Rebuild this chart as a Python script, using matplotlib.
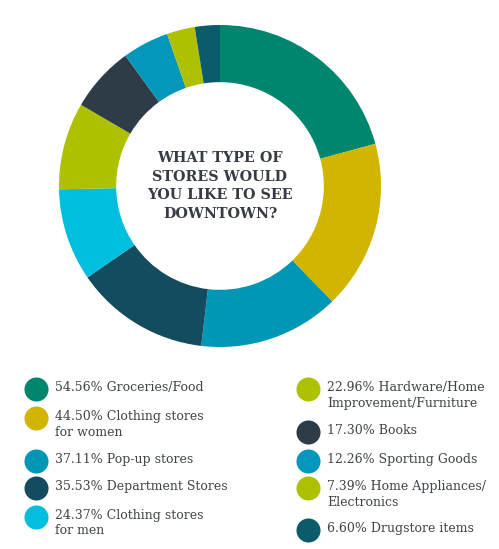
import matplotlib.pyplot as plt

# Survey results: what type of stores would you like to see downtown?
categories = ["Groceries/Food", "Clothing stores\nfor women", "Pop-up stores",
              "Department Stores", "Clothing stores\nfor men",
              "Hardware/Home\nImprovement/Furniture", "Books", "Sporting Goods",
              "Home Appliances/\nElectronics", "Drugstore items"]
percents = [54.56, 44.50, 37.11, 35.53, 24.37, 22.96, 17.30, 12.26, 7.39, 6.60]
colors = ["#00866E", "#D1B500", "#0096B6", "#134B5F", "#00BEDD",
          "#AEC100", "#2E3C48", "#0398BB", "#AEC100", "#0C5B6A"]

W, H = 499, 549
fig = plt.figure(figsize=(W / 100, H / 100), dpi=100)
fig.patch.set_facecolor("white")

# donut
cx, cy, r = 220, 186, 161
ax = fig.add_axes([(cx - r) / W, (H - cy - r) / H, 2 * r / W, 2 * r / H])
ax.pie(percents, colors=colors, startangle=90, counterclock=False, radius=1,
       wedgeprops=dict(width=0.355, linewidth=0))
ax.set_xlim(-1, 1)
ax.set_ylim(-1, 1)
ax.axis("off")
ax.text(0, 0.0, "WHAT TYPE OF\nSTORES WOULD\nYOU LIKE TO SEE\nDOWNTOWN?",
        ha="center", va="center", fontsize=10.3, fontweight="bold",
        family="DejaVu Serif", color="#363C44", linespacing=1.4)

# legend
lax = fig.add_axes([0, 0, 1, 1])
lax.set_xlim(0, W)
lax.set_ylim(H, 0)
lax.axis("off")

rows_y = [389, 418, 461, 488, 517, 389, 432, 461, 488, 530]
for i, (name, p, c) in enumerate(zip(categories, percents, colors)):
    x = 36 if i < 5 else 308
    y = rows_y[i]
    lax.scatter([x], [y], s=300, color=c, linewidths=0)
    lax.text(x + 19, y - 8, f"{p:.2f}% {name}", ha="left", va="top",
             fontsize=9, family="DejaVu Serif", color="#3F444A",
             linespacing=1.25)

fig.savefig("out.png", dpi=100, facecolor="white")
